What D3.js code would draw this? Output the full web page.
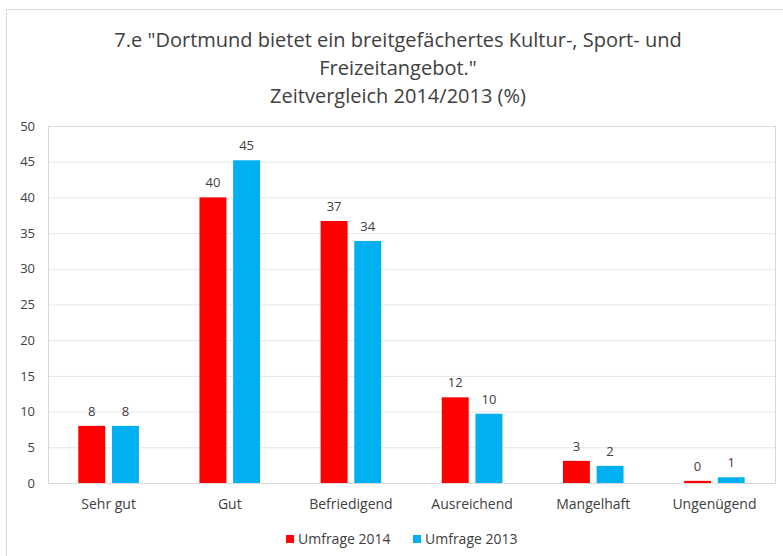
<!DOCTYPE html>
<html>
<head>
<meta charset="utf-8">
<script src="https://cdn.jsdelivr.net/npm/d3@7"></script>
<style>
  body { margin:0; background:#fff; }
  text { font-family: "Open Sans", sans-serif; fill:#404040; }
</style>
</head>
<body>
<svg id="chart" width="783" height="556"></svg>
<script>
// categories and series
const categories = ["Sehr gut","Gut","Befriedigend","Ausreichend","Mangelhaft","Ungenügend"];
const seriesNames = ["Umfrage 2014","Umfrage 2013"];
const values2014 = [8.0, 40.0, 36.7, 12.0, 3.1, 0.3];
const values2013 = [8.0, 45.2, 33.9, 9.7, 2.4, 0.8];
const yTicks = [0,5,10,15,20,25,30,35,40,45,50];
const titleLines = [
  '7.e "Dortmund bietet ein breitgefächertes Kultur-, Sport- und',
  'Freizeitangebot."',
  'Zeitvergleich 2014/2013 (%)'
];

const colors = d3.scaleOrdinal().domain(seriesNames).range(['#ff0000','#00b0f0']);
const svg = d3.select('#chart');

// outer chart border
svg.append('rect')
  .attr('x',6.5).attr('y',9.5).attr('width',800).attr('height',600)
  .attr('fill','#fff').attr('stroke','#d9d9d9');

// title
svg.append('g').selectAll('text').data(titleLines).enter().append('text')
  .attr('x',398).attr('y',(d,i)=>47 + i*28)
  .attr('text-anchor','middle')
  .style('font-size','20px')
  .text(d=>d);

const margin = {l:48, t:126, r:775, b:483};
const x = d3.scaleBand().domain(categories).range([margin.l, margin.r]).padding(0);
const bw = x.bandwidth();
const xs = d3.scaleBand().domain(seriesNames).range([bw*0.25, bw*0.75]).paddingInner(0.2);
const y = d3.scaleLinear().domain([0,50]).range([margin.b, margin.t]);

// gridlines
svg.append('g').selectAll('line').data(yTicks.slice(1)).enter().append('line')
  .attr('x1',margin.l).attr('x2',margin.r)
  .attr('y1',d=>y(d)+0.5).attr('y2',d=>y(d)+0.5)
  .attr('stroke','#e6e6e6');

// plot area border
svg.append('rect')
  .attr('x',margin.l+0.5).attr('y',margin.t+0.5)
  .attr('width',margin.r-margin.l).attr('height',margin.b-margin.t)
  .attr('fill','none').attr('stroke','#d9d9d9');

// y axis
const yAxis = svg.append('g')
  .attr('transform',`translate(${margin.l},0)`)
  .call(d3.axisLeft(y).tickValues(yTicks).tickSize(0).tickPadding(13));
yAxis.select('.domain').remove();
yAxis.selectAll('text').style('font-size','13px').attr('fill','#595959');

// x axis
const xAxis = svg.append('g')
  .attr('transform',`translate(0,${margin.b})`)
  .call(d3.axisBottom(x).tickSize(0).tickPadding(16));
xAxis.select('.domain').attr('stroke','#d9d9d9');
xAxis.selectAll('text').style('font-size','14px').attr('fill','#595959');

// bars
const rows = categories.map((c,i)=>({cat:c, vals:[
  {s:seriesNames[0], v:values2014[i]},
  {s:seriesNames[1], v:values2013[i]}
]}));

const groups = svg.append('g').selectAll('g').data(rows).enter().append('g')
  .attr('transform',d=>`translate(${x(d.cat)},0)`);

groups.selectAll('rect').data(d=>d.vals).enter().append('rect')
  .attr('x',d=>xs(d.s)).attr('width',xs.bandwidth())
  .attr('y',d=>y(d.v)).attr('height',d=>y(0)-y(d.v))
  .attr('fill',d=>colors(d.s));

groups.selectAll('text').data(d=>d.vals).enter().append('text')
  .attr('x',d=>xs(d.s)+xs.bandwidth()/2)
  .attr('y',d=>y(d.v)-10)
  .attr('text-anchor','middle')
  .style('font-size','13px')
  .text(d=>d3.format('.0f')(d.v));

// legend
const legendX = [286, 413];
const lg = svg.append('g').selectAll('g').data(seriesNames).enter().append('g')
  .attr('transform',(d,i)=>`translate(${legendX[i]},535)`);
lg.append('rect').attr('width',8).attr('height',8).attr('fill',d=>colors(d));
lg.append('text').attr('x',12).attr('y',9).style('font-size','14px').text(d=>d);
</script>
</body>
</html>
